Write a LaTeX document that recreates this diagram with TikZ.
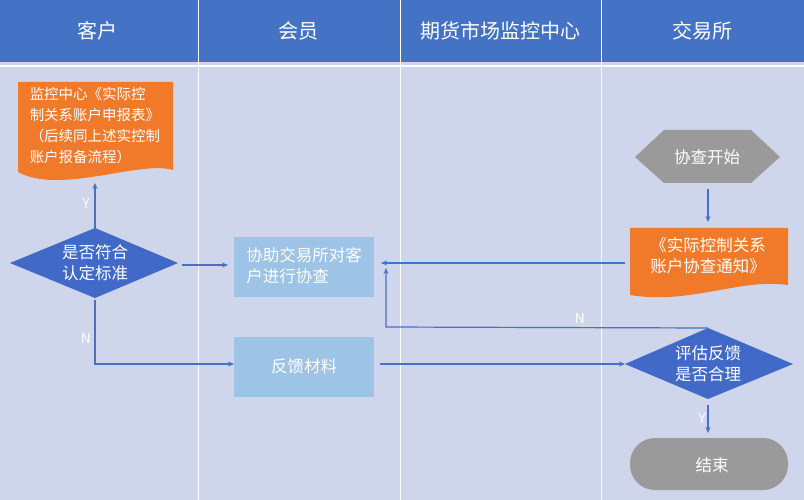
\documentclass[tikz,border=0pt]{standalone}
\usepackage{fontspec}
\setmainfont{Noto Sans CJK SC}
\usetikzlibrary{shapes.geometric,arrows.meta}
\definecolor{bgc}{HTML}{CFD5EA}
\definecolor{hdr}{HTML}{4472C4}
\definecolor{lbox}{HTML}{9DC3E6}
\definecolor{org}{HTML}{F07A2A}
\definecolor{dia}{HTML}{4169C8}
\definecolor{gry}{HTML}{9A9A9A}
\definecolor{ln}{HTML}{4472C4}
\begin{document}
\begin{tikzpicture}[x=1pt,y=-1pt,
  txt/.style={text=white,font=\fontsize{16.5}{21}\selectfont,align=center},
  conn/.style={draw=ln,line width=1.2pt,-{Stealth[length=6pt,width=5pt]}},
  lab/.style={text=white,font=\fontsize{14}{14}\selectfont}]
\useasboundingbox (0,0) rectangle (804,500);
\fill[bgc] (0,0) rectangle (804,500);
\fill[hdr] (0,0) rectangle (804,62);
\foreach \x in {198,400,601}{\draw[white,line width=1pt] (\x,0) -- (\x,500);}
\draw[white,line width=2pt] (0,66) -- (804,66);
\node[txt,font=\fontsize{20}{24}\selectfont] (h1) at (97,31) {客户};
\node[txt,font=\fontsize{20}{24}\selectfont] (h2) at (298,31) {会员};
\node[txt,font=\fontsize{20}{24}\selectfont] (h3) at (500,31) {期货市场监控中心};
\node[txt,font=\fontsize{20}{24}\selectfont] (h4) at (702,31) {交易所};
% doc1
\fill[org] (18,82) -- (173,82) -- (173,170) .. controls (140,160) and (60,195) .. (18,172) -- cycle;
\node[txt,align=left,font=\fontsize{14.5}{21}\selectfont] (doc1) at (95,126) {监控中心《实际控\\制关系账户申报表》\\（后续同上述实控制\\账户报备流程）};
\coordinate (doc1b) at (95,183);
% diamond1
\fill[dia] (10,263) -- (95,228) -- (178,263) -- (95,298) -- cycle;
\node[txt] (d1) at (95,263) {是否符合\\认定标准};
\coordinate (d1t) at (95,228); \coordinate (d1r) at (182,265); \coordinate (d1b) at (95,300);
% boxes
\fill[lbox] (234,237) rectangle (374,297);
\node[txt,align=left] (b1) at (304,266) {协助交易所对客\\户进行协查};
\coordinate (b1l) at (228,265); \coordinate (b1r) at (381,263);
\fill[lbox] (234,337) rectangle (374,397);
\node[txt] (b2) at (304,366) {反馈材料};
\coordinate (b2l) at (234,364); \coordinate (b2r) at (380,364);
% hexagon
\fill[gry] (635,157) -- (664,130) -- (751,130) -- (780,157) -- (751,183) -- (664,183) -- cycle;
\node[txt] (hex) at (707,157) {协查开始};
% doc2
\fill[org] (630,228) -- (788,228) -- (788,285) .. controls (740,278) and (690,305) .. (630,295) -- cycle;
\node[txt] (doc2) at (708,256) {《实际控制关系\\账户协查通知》};
\coordinate (doc2l) at (625,263);
% diamond2
\fill[dia] (625,364) -- (708,328) -- (793,364) -- (708,399) -- cycle;
\node[txt] (d2) at (708,364) {评估反馈\\是否合理};
% terminal
\fill[gry,rounded corners=25pt] (630,438) rectangle (788,490);
\node[txt] (end) at (712,465) {结束};
% connectors
\draw[conn] (d1t) -- (doc1b);
\node[lab] (y1) at (86,203) {Y};
\draw[conn] (d1r) -- (b1l);
\draw[conn] (d1b) -- (95,364) -- (b2l);
\node[lab] (n1) at (86,338) {N};
\draw[conn] (b2r) -- (625,364);
\draw[conn] (708,189) -- (708,222);
\draw[conn] (doc2l) -- (b1r);
\draw[conn] (708,328) -- (386,327) -- (386,268);
\node[lab] (n2) at (580,318) {N};
\draw[conn] (708,405) -- (708,433);
\node[lab] (y2) at (702,418) {Y};
\end{tikzpicture}
\end{document}
